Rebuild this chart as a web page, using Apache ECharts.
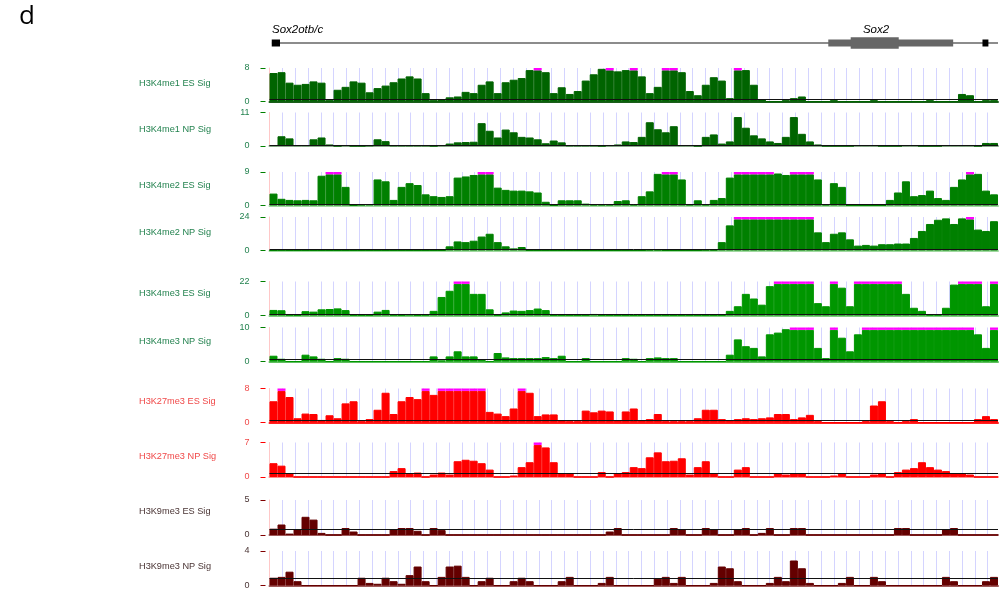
<!DOCTYPE html>
<html>
<head>
<meta charset="utf-8">
<script src="https://cdn.jsdelivr.net/npm/echarts@6/dist/echarts.min.js"></script>
<style>
html,body{margin:0;padding:0;background:#fff}
#main{width:1007px;height:589px}
</style>
</head>
<body>
<div id="main"></div>
<script>
// signal per 8px bin, 91 bins across the locus
var trackNames = ['H3K4me1 ES Sig','H3K4me1 NP Sig','H3K4me2 ES Sig','H3K4me2 NP Sig','H3K4me3 ES Sig',
                  'H3K4me3 NP Sig','H3K27me3 ES Sig','H3K27me3 NP Sig','H3K9me3 ES Sig','H3K9me3 NP Sig'];
var trackMax = [8, 11, 9, 24, 22, 10, 8, 7, 5, 4];
var zeroLine = [0.5, 0.35, 0.4, 0.6, 0.8, 0.65, 0.6, 0.67, 0.86, 0.83];

var k4me1ES = [6.8,7,4.5,4,4.2,4.8,4.5,0.3,2.8,3.5,
  4.8,4.5,2.2,3.2,3.8,4.6,5.5,6,5.5,2,
  0.3,0.5,1,1.2,2.3,2,4,4.8,2,4.6,
  5.2,5.6,7.5,8,7,2,3.4,1.8,2.5,5,
  6.5,7.8,8,7.2,7.5,8,6,2,3.5,8,
  8,7,2.5,1.5,4,5.8,5,0.8,8,7.5,
  4,0.5,0,0,0.3,0.8,1.2,0,0,0,
  0.3,0,0,0,0,0.3,0,0,0,0,
  0,0,0.3,0,0,0,1.8,1.5,0,0.3,
  0.3];
var k4me1NP = [0.3,3.2,2.5,0.3,0.3,2.2,2.8,0.5,0,0.3,
  0,0,0.2,2.2,1.6,0.2,0.2,0.2,0.2,0.2,
  0,0.3,0.8,1.2,1.3,1.4,7.5,5,2.8,5.4,
  4.5,3,2.8,2.2,0.9,1.8,1.2,0.2,0.2,0.2,
  0.2,0,0.3,0.5,1.5,1.3,3,7.8,5.5,4.5,
  6.5,0.3,0.3,0,3,3.8,0.8,1.5,9.5,6,
  3.5,2.5,1.5,1,3,9.5,4,1.5,0.5,0,
  0,0,0,0.3,0.3,0.3,0,0,0,0.3,
  0.3,0,0,0,0.3,0.3,0.3,0.3,0,1,
  1];
var k4me2ES = [3.2,1.8,1.5,1.4,1.5,1.4,8,9,9,5,
  0,0.3,0.4,7,6.5,1.5,5,6,5.5,3,
  2.5,2.3,2.5,7.5,7.8,8.2,9,9,4.8,4.2,
  4,4,3.8,3.5,1,0,1.4,1.4,1.4,0.5,
  0.3,0.3,0.3,1.2,1.4,0.3,2.5,3.8,8.5,9,
  9,7,0.3,1.4,0.3,1.5,2,7.5,9,9,
  9,9,9,8.6,8.2,9,9,9,7,0.3,
  6,5,0,0,0,0,0,1.5,3.5,6.5,
  2.5,2.8,4,2,1.5,5,7,9,8.5,4,
  3];
var k4me2NP = [0,0.3,0,0,0,0,0,0,0,0,
  0,0,0,0,0,0,0,0,0,0,
  0,0,3,6.5,6,7,10,12,6,3,
  1.5,2.5,0,0,0,0,0,0,0,0,
  0,0,0,0,0,0,0,0.6,0.6,0,
  0,0,0,0,0.5,0.5,6,18,24,24,
  24,24,24,24,24,24,24,24,13,6,
  12,13,8,3.5,4,3.5,4.5,4.5,5,5,
  9,14,19,22,23,19,23,24,15,14,
  21];
var k4me3ES = [3.6,3.4,0.5,0.3,2.8,2.5,4,4.2,4.6,3.5,
  0.3,0.3,0.3,2.5,3.6,0.5,0.3,0.8,0.3,0.5,
  3,12,16,22,22,14,14,4,0.3,2,
  3.2,3,3.5,4.5,3.5,0.3,0.3,0.3,0.3,0.3,
  1,0.3,0.3,0.3,0.3,0.3,0.3,0.3,0.3,0.3,
  0.3,0.3,0.3,0.3,0.3,0.3,0.3,3,6,14,
  11,7,19,22,22,22,22,22,8,6,
  22,18,6,22,22,22,22,22,22,14,
  5,3,0.5,0.5,5,20,22,22,22,6,
  22];
var k4me3NP = [1.7,0.8,0,0,2,1.5,0.8,0,1,0.8,
  0,0,0,0,0,0,0,0,0,0,
  1.5,0.3,1.5,3,1.5,1.5,0.5,0,2.5,1.2,
  1,1,1,1,1.3,1,1.7,0,0,1,
  0,0,0,0,1,0.8,0,1,1.2,1,
  1,0,0,0,0,0,0,2,6.5,4.5,
  4,1.5,8,8.5,9.5,10,10,10,4,1,
  10,7,3,8,10,10,10,10,10,10,
  10,10,10,10,10,10,10,10,8,4,
  10];
var k27me3ES = [5,8,6,1,2.1,2,0.6,1.7,1,4.5,
  5,0.3,0.8,3,7,2,5,6,5.5,8,
  6.5,8,8,8,8,8,8,2.5,2.1,1.5,
  3.3,8,7,1.5,1.9,1.9,0.5,0.3,0.3,2.8,
  2.4,2.8,2.6,0.5,2.6,3.3,0.5,0.8,2,0.3,
  0.3,0.3,0.3,1,3,3,0.8,0.5,0.8,1,
  0.8,1,1.2,2,2,0.8,1.2,1.8,0.3,0,
  0,0,0,0,0.3,4,5,0.3,0,0.3,
  0.8,0,0,0,0,0,0,0,0.8,1.5,
  0.8];
var k27me3NP = [2.8,2.3,0.8,0,0,0,0,0,0,0,
  0,0,0,0,0,1.2,1.8,0.6,0.9,0,
  0.5,0.9,0.5,3.2,3.5,3.3,2.8,1.5,0,0,
  0.3,2,3,7,6,3,0.8,0.8,0,0,
  0,1,0,0.8,1,2,1.8,4,5,3.2,
  3.3,3.8,0.5,2,3.2,0.8,0,0,1.5,2,
  0,0,0,0.8,0.5,0.8,0.8,0,0,0,
  0.3,0.8,0,0,0,0.5,0.8,0,1,1.5,
  1.8,3,2,1.5,1.2,0.8,0.8,0.5,0,0,
  0];
var k9me3ES = [0.9,1.5,0.2,0.8,2.6,2.2,0.3,0,0,1,
  0.5,0,0,0,0,0.8,1,1,0.6,0,
  1,0.7,0,0,0,0,0,0,0,0,
  0,0,0,0,0,0,0,0,0,0,
  0,0,0.5,1,0,0,0,0,0,0,
  1,0.8,0,0,1,0.8,0,0,0.8,1,
  0,0.3,1,0,0,1,1,0,0,0,
  0,0,0,0,0,0,0,0,1,1,
  0,0,0,0,0.8,1,0,0,0,0,
  0];
var k9me3NP = [0.9,1,1.6,0.5,0,0,0,0,0,0,
  0,0.9,0.3,0.2,0.9,0.5,0.2,1.2,2.2,0.5,
  0,1,2.2,2.3,1,0,0.5,0.9,0,0,
  0.5,0.9,0.5,0,0,0,0.5,1,0,0,
  0,0.3,1,0,0,0,0,0,0.8,1,
  0.3,1,0,0,0,0.3,2.2,2,0.5,0,
  0,0,0.3,1,0.5,2.9,2,0.3,0,0,
  0,0.3,1,0,0,1,0.5,0,0,0,
  0,0,0,0,1,0.5,0,0,0,0.5,
  1];

// gene model: [start bin, end bin, kind] kind 0 backbone, 1 marker, 2 utr, 3 cds
var geneParts = [[0.3,91,0],[0.28,1.31,1],[69.8,85.4,2],[72.6,78.6,3],[89.06,89.8,1]];

var tracks = [k4me1ES,k4me1NP,k4me2ES,k4me2NP,k4me3ES,k4me3NP,k27me3ES,k27me3NP,k9me3ES,k9me3NP];

// layout and styles
var PLOT_L = 269.5, PLOT_W = 728.5, CAP = 0.07;
var trackTop = [68,112.5,172,217,281.5,327.5,388.5,442.5,500,551];
var trackBot = [101.5,146,205.5,250.5,315.5,361.5,422.5,477,535,585.5];
var labelY = [83,129,185,232,293,341,401,456,511,566];
var fillColor = ['#006400','#006400','#008000','#008000','#009600','#009600','#ff0000','#ff0000','#640000','#640000'];
var labelColor = ['#23824f','#23824f','#23824f','#23824f','#23824f','#23824f','#f04848','#f04848','#4a3434','#4a3434'];
var tickColor = ['#008000','#008000','#008000','#008000','#008000','#008000','#ff0000','#ff0000','#800000','#800000'];
var stripColor = ['#1a5e1a','#8aaa8a','#a0d8a0','#a0d8a0','#80cc80','#60c060','#ff2020','#ff8c8c','#a05a5a','#a05a5a'];

var binIdx = [];
for (var i = 0; i < k4me1ES.length; i++) binIdx.push(i);

var option = {
  animation: false,
  backgroundColor: '#fff',
  grid: [], xAxis: [], yAxis: [], series: [],
  graphic: [
    {type:'text', x:19, y:17, style:{text:'d', font:'26px "Open Sans"', fill:'#000', verticalAlign:'middle'}},
    {type:'text', x:272, y:30, style:{text:'Sox2otb/c', font:'italic 11.5px "Liberation Sans"', fill:'#000', verticalAlign:'middle'}},
    {type:'text', x:876, y:30, style:{text:'Sox2', font:'italic 11.5px "Liberation Sans"', fill:'#000', align:'center', verticalAlign:'middle'}}
  ]
};

tracks.forEach(function(vals, t){
  var top = trackMax[t];
  option.grid.push({left:PLOT_L, width:PLOT_W, top:trackTop[t], height:trackBot[t]-trackTop[t],
    containLabel:false, outerBoundsMode:'none'});
  option.xAxis.push({type:'category', gridIndex:t, position:'bottom', data:binIdx, show:false});
  option.xAxis.push({
    type:'value', gridIndex:t, position:'bottom', min:0, max:56.8, interval:1,
    axisLabel:{show:false}, axisTick:{show:false},
    axisLine:{show:true, onZero:false, lineStyle:{color:stripColor[t], width:2}},
    splitLine:{show:true, showMinLine:false, showMaxLine:false, lineStyle:{color:'#d4d4ff', width:1}}
  });
  option.yAxis.push({
    type:'value', gridIndex:t, position:'left', min:0, max:top,
    axisLine:{show:true, lineStyle:{color:'#ffc8c8', width:1}},
    axisTick:{show:false}, axisLabel:{show:false}, splitLine:{show:false}
  });
  option.yAxis.push({
    type:'value', gridIndex:t, position:'left', min:0, max:top, interval:top, offset:4,
    axisLine:{show:false},
    axisTick:{show:true, length:5, lineStyle:{color:tickColor[t], width:1}},
    axisLabel:{color:labelColor[t], fontSize:9, margin:16, fontFamily:'Liberation Sans'},
    splitLine:{show:false}
  });
  var body = [], cap = [];
  vals.forEach(function(v){
    if (v >= top) { body.push(top*(1-CAP)); cap.push(top*CAP); }
    else { body.push(v); cap.push(0); }
  });
  option.series.push({
    type:'bar', xAxisIndex:2*t, yAxisIndex:2*t, stack:'s'+t, data:body,
    barWidth:'100%', barCategoryGap:'0%', barGap:'0%', silent:true,
    itemStyle:{color:fillColor[t], borderColor:fillColor[t], borderWidth:1},
    markLine:{silent:true, symbol:'none', label:{show:false},
      lineStyle:{color:'#111', width:1, type:'solid'}, data:[{yAxis:zeroLine[t]}]}
  });
  option.series.push({
    type:'bar', xAxisIndex:2*t, yAxisIndex:2*t, stack:'s'+t, data:cap,
    barWidth:'100%', barCategoryGap:'0%', barGap:'0%', silent:true, itemStyle:{color:'#ff00ff'}
  });
  option.graphic.push({type:'text', x:139, y:labelY[t],
    style:{text:trackNames[t], font:'9.2px "Liberation Sans"', fill:labelColor[t], verticalAlign:'middle'}});
});

// gene track
option.grid.push({left:PLOT_L, width:PLOT_W, top:30, height:26, outerBoundsMode:'none'});
option.xAxis.push({type:'value', gridIndex:10, min:0, max:91, show:false});
option.yAxis.push({type:'value', gridIndex:10, min:-1, max:1, show:false});
var partH = [1.5, 7, 7, 11.5];
var partC = ['#666', '#000', '#666', '#666'];
option.series.push({
  type:'custom', xAxisIndex:20, yAxisIndex:20, silent:true, data:geneParts,
  renderItem:function(params, api){
    var s = api.coord([api.value(0), 0]);
    var e = api.coord([api.value(1), 0]);
    var k = api.value(2);
    return {type:'rect', shape:{x:s[0], y:s[1]-partH[k]/2, width:e[0]-s[0], height:partH[k]},
      style:{fill:partC[k]}};
  }
});

var myChart = echarts.init(document.getElementById('main'));
myChart.setOption(option);
</script>
</body>
</html>
